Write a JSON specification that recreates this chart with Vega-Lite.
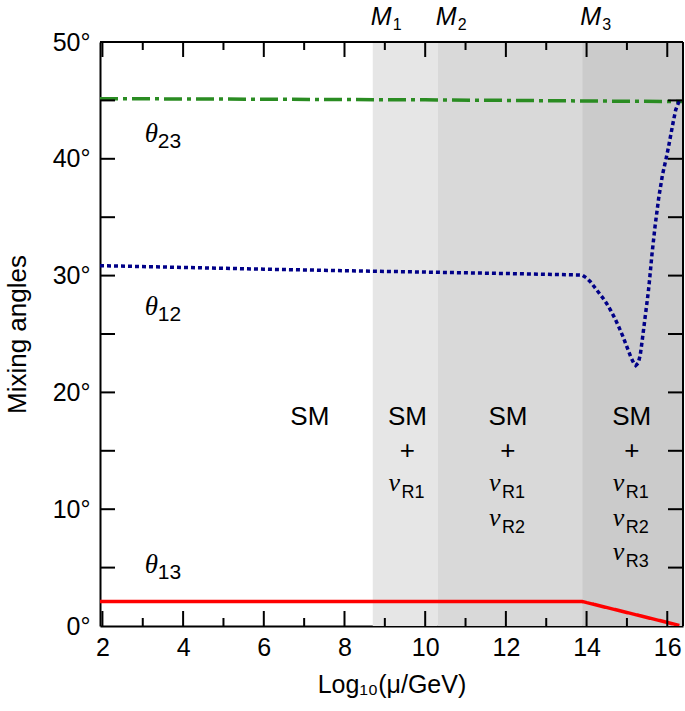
{
  "$schema": "https://vega.github.io/schema/vega-lite/v6.json",
  "width": 583,
  "height": 584,
  "autosize": "none",
  "padding": {"left": 100, "top": 42, "right": 2, "bottom": 85},
  "background": "white",
  "config": {
    "view": {"stroke": null},
    "font": "Liberation Sans",
    "axis": {
      "zindex": 1, "grid": false,
      "labelFont": "Liberation Sans", "labelFontSize": 25, "labelColor": "black",
      "titleFont": "Liberation Sans", "titleFontSize": 25, "titleFontWeight": "normal", "titleColor": "black",
      "tickColor": "black", "tickWidth": 2, "domainColor": "black", "domainWidth": 2,
      "labelFlush": false, "labelOverlap": false
    }
  },
  "datasets": {
    "bands": [
      {"x1": 8.70, "x2": 10.31, "shade": "a"},
      {"x1": 10.31, "x2": 13.89, "shade": "b"},
      {"x1": 13.89, "x2": 16.39, "shade": "c"}
    ],
    "frame": [
      {"xmin": 1.94, "xmax": 16.39, "ymin": 0, "ymax": 50}
    ],
    "xticks": [
      {"v": 2, "kind": "major"}, {"v": 3, "kind": "minor"}, {"v": 4, "kind": "major"}, {"v": 5, "kind": "minor"},
      {"v": 6, "kind": "major"}, {"v": 7, "kind": "minor"}, {"v": 8, "kind": "major"}, {"v": 9, "kind": "minor"},
      {"v": 10, "kind": "major"}, {"v": 11, "kind": "minor"}, {"v": 12, "kind": "major"}, {"v": 13, "kind": "minor"},
      {"v": 14, "kind": "major"}, {"v": 15, "kind": "minor"}, {"v": 16, "kind": "major"}
    ],
    "yticks": [
      {"v": 5}, {"v": 10}, {"v": 15}, {"v": 20}, {"v": 25}, {"v": 30}, {"v": 35}, {"v": 40}, {"v": 45}
    ],
    "curves": [
      {"angle": "θ23", "x": 1.94, "y": 45.15},
      {"angle": "θ23", "x": 6, "y": 45.1},
      {"angle": "θ23", "x": 10, "y": 45.05},
      {"angle": "θ23", "x": 14, "y": 44.95},
      {"angle": "θ23", "x": 16.39, "y": 44.9},
      {"angle": "θ12", "x": 1.94, "y": 30.85},
      {"angle": "θ12", "x": 4, "y": 30.7},
      {"angle": "θ12", "x": 6, "y": 30.55},
      {"angle": "θ12", "x": 8, "y": 30.42},
      {"angle": "θ12", "x": 10, "y": 30.3},
      {"angle": "θ12", "x": 12, "y": 30.18},
      {"angle": "θ12", "x": 13.89, "y": 30.05},
      {"angle": "θ12", "x": 14.0, "y": 29.8},
      {"angle": "θ12", "x": 14.1, "y": 29.45},
      {"angle": "θ12", "x": 14.2, "y": 29.0},
      {"angle": "θ12", "x": 14.3, "y": 28.55},
      {"angle": "θ12", "x": 14.4, "y": 28.1},
      {"angle": "θ12", "x": 14.5, "y": 27.6},
      {"angle": "θ12", "x": 14.6, "y": 27.0},
      {"angle": "θ12", "x": 14.7, "y": 26.35},
      {"angle": "θ12", "x": 14.8, "y": 25.6},
      {"angle": "θ12", "x": 14.9, "y": 24.8},
      {"angle": "θ12", "x": 15.0, "y": 23.9},
      {"angle": "θ12", "x": 15.1, "y": 23.0},
      {"angle": "θ12", "x": 15.17, "y": 22.5},
      {"angle": "θ12", "x": 15.22, "y": 22.3},
      {"angle": "θ12", "x": 15.28, "y": 22.5},
      {"angle": "θ12", "x": 15.33, "y": 23.2},
      {"angle": "θ12", "x": 15.37, "y": 24.2},
      {"angle": "θ12", "x": 15.41, "y": 25.3},
      {"angle": "θ12", "x": 15.45, "y": 26.4},
      {"angle": "θ12", "x": 15.49, "y": 27.5},
      {"angle": "θ12", "x": 15.53, "y": 28.6},
      {"angle": "θ12", "x": 15.56, "y": 29.6},
      {"angle": "θ12", "x": 15.62, "y": 31.8},
      {"angle": "θ12", "x": 15.7, "y": 34.3},
      {"angle": "θ12", "x": 15.79, "y": 36.7},
      {"angle": "θ12", "x": 15.88, "y": 38.6},
      {"angle": "θ12", "x": 15.97, "y": 40.0},
      {"angle": "θ12", "x": 16.03, "y": 41.0},
      {"angle": "θ12", "x": 16.09, "y": 42.1},
      {"angle": "θ12", "x": 16.15, "y": 43.2},
      {"angle": "θ12", "x": 16.21, "y": 44.2},
      {"angle": "θ12", "x": 16.3, "y": 45.0},
      {"angle": "θ13", "x": 1.94, "y": 2.1},
      {"angle": "θ13", "x": 13.89, "y": 2.1},
      {"angle": "θ13", "x": 16.3, "y": 0.05}
    ],
    "thetas": [
      {"sym": "θ", "sub": "23", "x": 3.05, "y": 41.4},
      {"sym": "θ", "sub": "12", "x": 3.05, "y": 26.6},
      {"sym": "θ", "sub": "13", "x": 3.05, "y": 4.5}
    ],
    "regions": [
      {"t": "SM", "x": 7.14, "y": 17.2},
      {"t": "SM", "x": 9.56, "y": 17.2},
      {"t": "SM", "x": 12.05, "y": 17.2},
      {"t": "SM", "x": 15.12, "y": 17.2},
      {"t": "+", "x": 9.56, "y": 14.3},
      {"t": "+", "x": 12.05, "y": 14.3},
      {"t": "+", "x": 15.12, "y": 14.3}
    ],
    "nus": [
      {"nu": "ν", "sub": "R1", "x": 9.56, "y": 10.96},
      {"nu": "ν", "sub": "R1", "x": 12.05, "y": 10.96},
      {"nu": "ν", "sub": "R2", "x": 12.05, "y": 7.99},
      {"nu": "ν", "sub": "R1", "x": 15.12, "y": 10.96},
      {"nu": "ν", "sub": "R2", "x": 15.12, "y": 7.99},
      {"nu": "ν", "sub": "R3", "x": 15.12, "y": 5.08}
    ],
    "masses": [
      {"m": "M", "n": "1", "x": 8.70},
      {"m": "M", "n": "2", "x": 10.31},
      {"m": "M", "n": "3", "x": 13.89}
    ]
  },
  "resolve": {
    "scale": {"x": "independent", "y": "independent", "color": "independent", "strokeDash": "independent", "size": "independent"},
    "axis": {"x": "independent", "y": "independent"}
  },
  "layer": [
    {
      "data": {"name": "bands"},
      "mark": {"type": "rect"},
      "encoding": {
        "x": {"field": "x1", "type": "quantitative",
              "scale": {"domain": [1.94, 16.39], "nice": false, "zero": false},
              "axis": {"orient": "bottom", "values": [2, 4, 6, 8, 10, 12, 14, 16], "ticks": false, "labelPadding": 9,
                       "title": "Log₁₀(μ/GeV)", "titlePadding": 12, "domain": true}},
        "x2": {"field": "x2"},
        "y": {"datum": 0, "type": "quantitative",
              "scale": {"domain": [0, 50], "nice": false, "zero": false},
              "axis": {"orient": "left", "values": [0, 10, 20, 30, 40, 50], "ticks": false, "labelPadding": 10,
                       "labelExpr": "datum.value + '°'",
                       "title": "Mixing angles", "titleFontSize": 26, "titlePadding": 22, "domain": true}},
        "y2": {"datum": 50},
        "color": {"field": "shade", "type": "nominal",
                  "scale": {"domain": ["a", "b", "c"], "range": ["#e6e6e6", "#d9d9d9", "#cbcbcb"]}, "legend": null}
      }
    },
    {
      "data": {"name": "curves"},
      "mark": {"type": "line", "strokeWidth": 3.5, "strokeCap": "butt", "clip": true},
      "encoding": {
        "x": {"field": "x", "type": "quantitative",
              "scale": {"domain": [1.94, 16.39], "nice": false, "zero": false}, "axis": null},
        "y": {"field": "y", "type": "quantitative",
              "scale": {"domain": [0, 50], "nice": false, "zero": false}, "axis": null},
        "color": {"field": "angle", "type": "nominal",
                  "scale": {"domain": ["θ23", "θ12", "θ13"], "range": ["#2a8c22", "#000088", "#ff0000"]}, "legend": null},
        "strokeDash": {"field": "angle", "type": "nominal",
                       "scale": {"domain": ["θ23", "θ12", "θ13"], "range": [[18, 5, 4, 5], [4, 3], [1, 0]]}, "legend": null}
      }
    },
    {
      "data": {"name": "frame"},
      "mark": {"type": "rule", "color": "black", "strokeWidth": 2},
      "encoding": {
        "x": {"field": "xmin", "type": "quantitative", "scale": {"domain": [1.94, 16.39], "nice": false, "zero": false}, "axis": null},
        "x2": {"field": "xmax"},
        "y": {"field": "ymax", "type": "quantitative", "scale": {"domain": [0, 50], "nice": false, "zero": false}, "axis": null}
      }
    },
    {
      "data": {"name": "frame"},
      "mark": {"type": "rule", "color": "black", "strokeWidth": 2},
      "encoding": {
        "x": {"field": "xmax", "type": "quantitative", "scale": {"domain": [1.94, 16.39], "nice": false, "zero": false}, "axis": null},
        "y": {"field": "ymin", "type": "quantitative", "scale": {"domain": [0, 50], "nice": false, "zero": false}, "axis": null},
        "y2": {"field": "ymax"}
      }
    },
    {
      "data": {"name": "xticks"},
      "mark": {"type": "tick", "orient": "vertical", "thickness": 2, "color": "black", "opacity": 1, "clip": true},
      "encoding": {
        "x": {"field": "v", "type": "quantitative", "scale": {"domain": [1.94, 16.39], "nice": false, "zero": false}, "axis": null},
        "y": {"datum": 50, "type": "quantitative", "scale": {"domain": [0, 50], "nice": false, "zero": false}, "axis": null},
        "size": {"field": "kind", "type": "ordinal", "scale": {"domain": ["major", "minor"], "range": [30, 16]}, "legend": null}
      }
    },
    {
      "data": {"name": "xticks"},
      "mark": {"type": "tick", "orient": "vertical", "thickness": 2, "color": "black", "opacity": 1, "clip": true},
      "encoding": {
        "x": {"field": "v", "type": "quantitative", "scale": {"domain": [1.94, 16.39], "nice": false, "zero": false}, "axis": null},
        "y": {"datum": 0, "type": "quantitative", "scale": {"domain": [0, 50], "nice": false, "zero": false}, "axis": null},
        "size": {"field": "kind", "type": "ordinal", "scale": {"domain": ["major", "minor"], "range": [30, 16]}, "legend": null}
      }
    },
    {
      "data": {"name": "yticks"},
      "mark": {"type": "tick", "orient": "horizontal", "thickness": 2, "size": 30, "color": "black", "opacity": 1, "clip": true},
      "encoding": {
        "x": {"datum": 1.94, "type": "quantitative", "scale": {"domain": [1.94, 16.39], "nice": false, "zero": false}, "axis": null},
        "y": {"field": "v", "type": "quantitative", "scale": {"domain": [0, 50], "nice": false, "zero": false}, "axis": null}
      }
    },
    {
      "data": {"name": "yticks"},
      "mark": {"type": "tick", "orient": "horizontal", "thickness": 2, "size": 30, "color": "black", "opacity": 1, "clip": true},
      "encoding": {
        "x": {"datum": 16.39, "type": "quantitative", "scale": {"domain": [1.94, 16.39], "nice": false, "zero": false}, "axis": null},
        "y": {"field": "v", "type": "quantitative", "scale": {"domain": [0, 50], "nice": false, "zero": false}, "axis": null}
      }
    },
    {
      "data": {"name": "thetas"},
      "mark": {"type": "text", "font": "Liberation Serif", "fontStyle": "italic", "fontSize": 27, "align": "left", "baseline": "alphabetic", "color": "black"},
      "encoding": {
        "x": {"field": "x", "type": "quantitative", "scale": {"domain": [1.94, 16.39], "nice": false, "zero": false}, "axis": null},
        "y": {"field": "y", "type": "quantitative", "scale": {"domain": [0, 50], "nice": false, "zero": false}, "axis": null},
        "text": {"field": "sym"}
      }
    },
    {
      "data": {"name": "thetas"},
      "mark": {"type": "text", "font": "Liberation Sans", "fontSize": 21, "align": "left", "baseline": "alphabetic", "dx": 13, "dy": 6, "color": "black"},
      "encoding": {
        "x": {"field": "x", "type": "quantitative", "scale": {"domain": [1.94, 16.39], "nice": false, "zero": false}, "axis": null},
        "y": {"field": "y", "type": "quantitative", "scale": {"domain": [0, 50], "nice": false, "zero": false}, "axis": null},
        "text": {"field": "sub"}
      }
    },
    {
      "data": {"name": "regions"},
      "mark": {"type": "text", "font": "Liberation Sans", "fontSize": 26, "align": "center", "baseline": "alphabetic", "color": "black"},
      "encoding": {
        "x": {"field": "x", "type": "quantitative", "scale": {"domain": [1.94, 16.39], "nice": false, "zero": false}, "axis": null},
        "y": {"field": "y", "type": "quantitative", "scale": {"domain": [0, 50], "nice": false, "zero": false}, "axis": null},
        "text": {"field": "t"}
      }
    },
    {
      "data": {"name": "nus"},
      "mark": {"type": "text", "font": "Liberation Serif", "fontStyle": "italic", "fontSize": 26, "align": "left", "baseline": "alphabetic", "dx": -19, "dy": -7, "color": "black"},
      "encoding": {
        "x": {"field": "x", "type": "quantitative", "scale": {"domain": [1.94, 16.39], "nice": false, "zero": false}, "axis": null},
        "y": {"field": "y", "type": "quantitative", "scale": {"domain": [0, 50], "nice": false, "zero": false}, "axis": null},
        "text": {"field": "nu"}
      }
    },
    {
      "data": {"name": "nus"},
      "mark": {"type": "text", "font": "Liberation Sans", "fontSize": 18, "align": "left", "baseline": "alphabetic", "dx": -6, "color": "black"},
      "encoding": {
        "x": {"field": "x", "type": "quantitative", "scale": {"domain": [1.94, 16.39], "nice": false, "zero": false}, "axis": null},
        "y": {"field": "y", "type": "quantitative", "scale": {"domain": [0, 50], "nice": false, "zero": false}, "axis": null},
        "text": {"field": "sub"}
      }
    },
    {
      "data": {"name": "masses"},
      "mark": {"type": "text", "font": "Liberation Sans", "fontStyle": "italic", "fontSize": 25, "align": "left", "baseline": "alphabetic", "dx": -2, "dy": -17, "color": "black"},
      "encoding": {
        "x": {"field": "x", "type": "quantitative", "scale": {"domain": [1.94, 16.39], "nice": false, "zero": false}, "axis": null},
        "y": {"datum": 50, "type": "quantitative", "scale": {"domain": [0, 50], "nice": false, "zero": false}, "axis": null},
        "text": {"field": "m"}
      }
    },
    {
      "data": {"name": "masses"},
      "mark": {"type": "text", "font": "Liberation Sans", "fontSize": 16, "align": "left", "baseline": "alphabetic", "dx": 20, "dy": -12, "color": "black"},
      "encoding": {
        "x": {"field": "x", "type": "quantitative", "scale": {"domain": [1.94, 16.39], "nice": false, "zero": false}, "axis": null},
        "y": {"datum": 50, "type": "quantitative", "scale": {"domain": [0, 50], "nice": false, "zero": false}, "axis": null},
        "text": {"field": "n"}
      }
    }
  ]
}
